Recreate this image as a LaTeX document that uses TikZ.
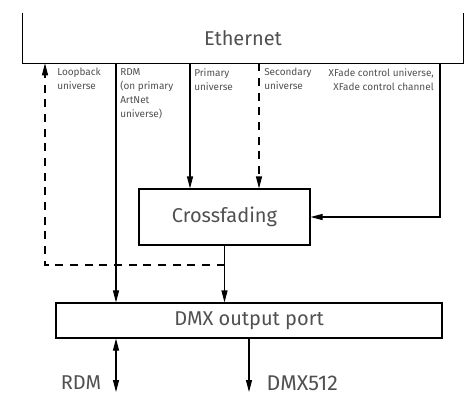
\documentclass[tikz,border=0pt]{standalone}
\usepackage{fontspec}
\setmainfont{Fira Sans}
\usetikzlibrary{positioning,calc,arrows.meta}

\definecolor{txtgray}{RGB}{80,80,80}
\tikzset{
    box/.style={draw, line width=0.8pt, inner sep=0pt, text=txtgray},
    lbl/.style={align=left, inner sep=0pt, text=txtgray, font=\fontsize{7.5}{10.5}\selectfont},
    big/.style={text=txtgray, font=\fontsize{15}{17}\selectfont},
    conn/.style={line width=0.8pt, -{Triangle[length=9pt,width=4.5pt]}},
    dashconn/.style={conn, dash pattern=on 6pt off 5pt}
}

\begin{document}
\begin{tikzpicture}[x=0.75pt, y=-0.75pt]
    \useasboundingbox (0,0) rectangle (470,411);

    % Blocks
    \node[inner sep=0pt, minimum width=330pt, minimum height=37.5pt, big] (eth) at (243,38) {Ethernet};
    \draw[line width=0.8pt] (eth.north west) -- (eth.south west) -- (eth.south east) -- (eth.north east);
    \node[box, big, minimum width=128.25pt, minimum height=42pt] (xfade) at (224.5,217) {Crossfading};
    \node[box, big, minimum width=289.5pt, minimum height=26.25pt] (dmxport) at (249,320.5) {DMX output port};

    % Columns
    \coordinate (loopx) at (45,0);
    \coordinate (rdmx) at (116,0);
    \coordinate (primx) at (190,0);
    \coordinate (secx) at (259,0);
    \coordinate (ctrlx) at (440,0);
    \coordinate (dmxx) at (249,0);
    \coordinate (merge) at (224.5,265);
    \coordinate (rdmout) at (116,392);
    \coordinate (dmxout) at (249,392);

    % Labels under Ethernet
    \node[lbl, anchor=north west] (looplbl) at (57,68) {Loopback\\universe};
    \node[lbl, anchor=north west] (rdmlbl) at (120,68) {RDM\\(on primary\\ArtNet\\universe)};
    \node[lbl, anchor=north west] (primlbl) at (194,68) {Primary\\universe};
    \node[lbl, anchor=north west] (seclbl) at (264,68) {Secondary\\universe};
    \node[lbl, anchor=north east, align=right] (ctrllbl) at (434,68) {XFade control universe,\\XFade control channel};
    \node[big] (rdmtxt) at (81,383) {RDM};
    \node[big, anchor=west, font=\fontsize{16}{18}\selectfont] (dmxtxt) at (262,383) {DMX512};

    % Connectors
    \draw[dashconn] (merge) -- (merge -| loopx) -- (eth.south -| loopx);
    \draw[conn] (eth.south -| rdmx) -- (dmxport.north -| rdmx);
    \draw[conn] (eth.south -| primx) -- (xfade.north -| primx);
    \draw[dashconn] (eth.south -| secx) -- (xfade.north -| secx);
    \draw[conn] (eth.south -| ctrlx) |- (xfade.east);
    \draw[conn] (xfade.south) -- (dmxport.north -| xfade.south);
    \draw[conn, {Triangle[length=9pt,width=4.5pt]}-{Triangle[length=9pt,width=4.5pt]}] (dmxport.south -| rdmx) -- (rdmout);
    \draw[conn] (dmxport.south -| dmxx) -- (dmxout);
\end{tikzpicture}
\end{document}
